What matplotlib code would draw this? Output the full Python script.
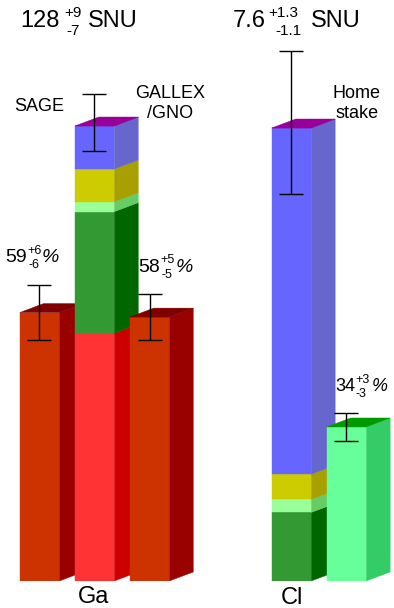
import numpy as np
import matplotlib.pyplot as plt
from matplotlib.patches import Polygon

plt.rcParams['font.family'] = ['Liberation Sans', 'DejaVu Sans']

# standard solar model contributions (SNU), bottom to top
sources = ['pp', '7Be', 'pep', 'CNO', '8B']
ga_snu = [69.7, 34.2, 2.8, 9.2, 12.1]
cl_snu = [0.0, 1.15, 0.22, 0.42, 5.81]
src_front = ['#ff3333', '#339933', '#99ff99', '#cccc00', '#6666ff']
src_side = ['#cc0000', '#006600', '#66cc66', '#a89f00', '#6666cc']

ga_total, ga_err = 128, (7, 9)
cl_total, cl_err = 7.6, (1.1, 1.3)

# measured rates, % of the model
ga_meas = [59, 58]          # SAGE, GALLEX/GNO
ga_meas_err = [(6, 6), (5, 5)]
cl_meas = [34]              # Homestake
cl_meas_err = [(3, 3)]

W_PX, H_PX = 394, 608
DX, DY = 24, 9              # depth of the 3d boxes in pixels
BW = 0.718
XLIM = (-0.718, 6.445)

fig = plt.figure(figsize=(W_PX / 100, H_PX / 100), dpi=100)
rect = [0, 27 / H_PX, 1, 581 / H_PX]
ax_ga = fig.add_axes(rect)
ax_cl = fig.add_axes(rect)
ax_ga.set_ylim(0, ga_total * 581 / 455)
ax_cl.set_ylim(0, cl_total * 581 / 453)
for ax in (ax_ga, ax_cl):
    ax.set_xlim(*XLIM)
    ax.axis('off')
    ax.patch.set_alpha(0)


def depth(ax):
    p0 = ax.transData.transform((0, 0))
    return ax.transData.inverted().transform(p0 + np.array([DX, DY]))


def box(ax, x, y0, y1, front, side, top=None):
    dx, dy = depth(ax)
    xa, xb = x - BW / 2, x + BW / 2
    ax.add_patch(Polygon([(xb, y0), (xb + dx, y0 + dy), (xb + dx, y1 + dy), (xb, y1)],
                         fc=side, ec=side, lw=0.3))
    ax.bar(x, y1 - y0, BW, bottom=y0, color=front, ec=front, lw=0.3)
    if top:
        ax.add_patch(Polygon([(xa, y1), (xb, y1), (xb + dx, y1 + dy), (xa + dx, y1 + dy)],
                             fc=top, ec=top, lw=0.3))


def stack(ax, x, vals, top):
    b = 0
    for v, fc, sc in zip(vals, src_front, src_side):
        if v > 0:
            box(ax, x, b, b + v, fc, sc)
            b += v
    box(ax, x, b, b, top, top, top)
    return b


def ebar(ax, x, y, lo, hi):
    ax.errorbar([x], [y], yerr=[[lo], [hi]], fmt='none', ecolor='k',
                elinewidth=1, capsize=8.6, capthick=1, zorder=5)


# Ga group: SAGE, model, GALLEX/GNO
ga_x = [0, 1, 2]
m0 = ga_meas[0] / 100 * ga_total
box(ax_ga, ga_x[0], 0, m0, '#cc3300', '#990000', '#800000')
stack(ax_ga, ga_x[1], ga_snu, '#990099')
m1 = ga_meas[1] / 100 * ga_total
box(ax_ga, ga_x[2], 0, m1, '#cc3300', '#990000', '#800000')
ebar(ax_ga, ga_x[0], m0, *[e / 100 * ga_total for e in ga_meas_err[0]])
ebar(ax_ga, ga_x[1], ga_total, *ga_err)
ebar(ax_ga, ga_x[2], m1, *[e / 100 * ga_total for e in ga_meas_err[1]])

# Cl group: model, Homestake
cl_x = [4.58, 5.58]
stack(ax_cl, cl_x[0], cl_snu, '#990099')
m2 = cl_meas[0] / 100 * cl_total
box(ax_cl, cl_x[1], 0, m2, '#66ff99', '#33cc66', '#009900')
ebar(ax_cl, cl_x[0], cl_total, *cl_err)
ebar(ax_cl, cl_x[1], m2, *[e / 100 * cl_total for e in cl_meas_err[0]])


def t(x, y, s, size, ha='left', **kw):
    fig.text(x / W_PX, 1 - y / H_PX, s, fontsize=size, ha=ha, va='baseline', **kw)


t(20, 27, '128', 17)
t(64, 17, '+9', 11)
t(66, 35, '-7', 11)
t(88, 27, 'SNU', 17)
t(233, 27, '7.6', 17)
t(268, 17, '+1.3', 11)
t(275, 35, '-1.1', 11)
t(311, 27, 'SNU', 17)

t(14, 111, 'SAGE', 13)
t(170, 118, 'GALLEX\n/GNO', 13, ha='center', multialignment='center')
t(357, 118, 'Home\nstake', 13, ha='center', multialignment='center')

t(5, 262, '59', 14)
t(27, 254, '+6', 9)
t(28, 268, '-6', 9)
t(42, 262, '%', 14, style='italic')
t(138, 272, '58', 14)
t(160, 263, '+5', 9)
t(161, 278, '-5', 9)
t(176, 272, '%', 14, style='italic')
t(335, 391, '34', 13)
t(355, 383, '+3', 9)
t(356, 397, '-3', 9)
t(372, 391, '%', 13, style='italic')

t(94, 603, 'Ga', 17, ha='center')
t(292, 604, 'Cl', 17, ha='center')

fig.savefig('out.png', dpi=100)
